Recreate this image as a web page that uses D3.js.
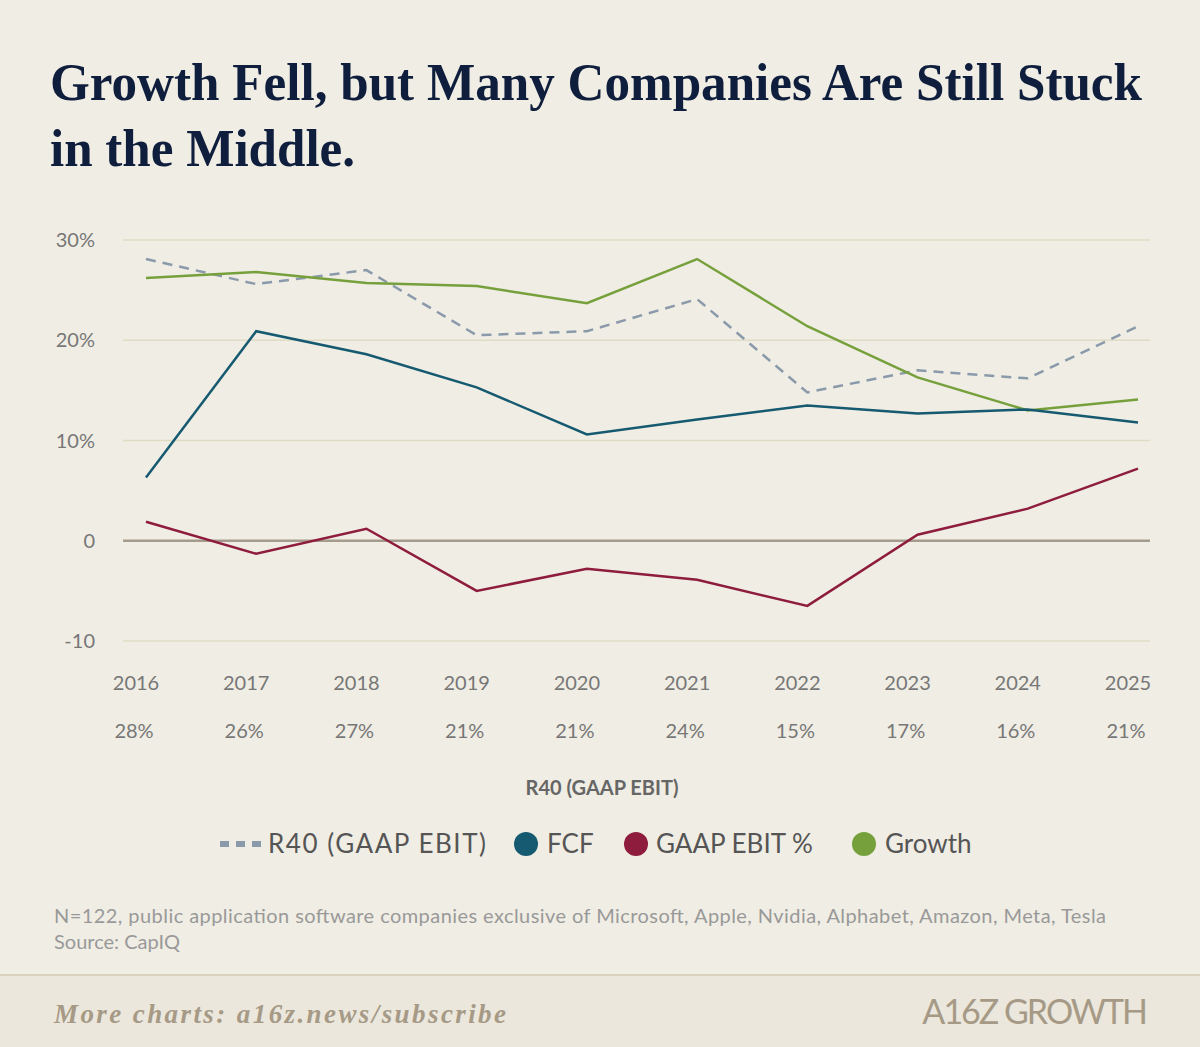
<!DOCTYPE html>
<html><head><meta charset="utf-8">
<script src="https://cdn.jsdelivr.net/npm/d3@7"></script>
<style>body{margin:0;background:#f0ede4;}svg{display:block}</style>
</head><body>
<script>
const years=["2016","2017","2018","2019","2020","2021","2022","2023","2024","2025"];
const r40=[28.1,25.6,27.0,20.5,20.9,24.1,14.8,17.0,16.2,21.4];
const fcf=[6.3,20.9,18.6,15.3,10.6,12.1,13.5,12.7,13.1,11.8];
const ebit=[1.9,-1.3,1.2,-5.0,-2.8,-3.9,-6.5,0.6,3.2,7.2];
const growth=[26.2,26.8,25.7,25.4,23.7,28.1,21.4,16.3,13.0,14.1];
const r40Labels=["28%","26%","27%","21%","21%","24%","15%","17%","16%","21%"];
const yTicks=[30,20,10,0,-10];
const yTickLabels=["30%","20%","10%","0","-10"];

const W=1200,H=1047;
const svg=d3.select("body").append("svg").attr("width",W).attr("height",H);
svg.append("rect").attr("width",W).attr("height",H).attr("fill","#f0ede4");
const serif="'Liberation Serif', 'DejaVu Serif', serif";
const sans="Lato, 'Open Sans', sans-serif";
svg.append("text").attr("x",50).attr("y",100).attr("font-family",serif).attr("font-weight","bold").attr("font-size",52).attr("fill","#0f1e3d").attr("textLength",1092).attr("lengthAdjust","spacingAndGlyphs").text("Growth Fell, but Many Companies Are Still Stuck");
svg.append("text").attr("x",50).attr("y",166).attr("font-family",serif).attr("font-weight","bold").attr("font-size",52).attr("fill","#0f1e3d").attr("textLength",305).attr("lengthAdjust","spacingAndGlyphs").text("in the Middle.");

const x=d3.scalePoint().domain(years).range([146,1138]);
const y=d3.scaleLinear().domain([-10,30]).range([641,240]);
yTicks.forEach((t,i)=>{
  svg.append("line").attr("x1",123).attr("x2",1150).attr("y1",y(t)).attr("y2",y(t))
    .attr("stroke",t===0?"#a59b8c":"#dfdcc4").attr("stroke-width",t===0?2.5:1.5);
  svg.append("text").attr("x",95).attr("y",y(t)+7).attr("text-anchor","end").attr("font-family",sans).attr("font-size",20).attr("fill","#777").text(yTickLabels[i]);
});
years.forEach((yr,i)=>{
  svg.append("text").attr("x",x(yr)-10).attr("y",690).attr("text-anchor","middle").attr("font-family",sans).attr("font-size",20).attr("fill","#777").text(yr);
  svg.append("text").attr("x",x(yr)-12).attr("y",738).attr("text-anchor","middle").attr("font-family",sans).attr("font-size",20).attr("fill","#777").text(r40Labels[i]);
});
svg.append("text").attr("x",602).attr("y",795).attr("text-anchor","middle").attr("font-family",sans).attr("font-weight","bold").attr("font-size",20).attr("fill","#666").text("R40 (GAAP EBIT)");

const line=d3.line().x((d,i)=>x(years[i])).y(d=>y(d));
const series=[
  {v:r40,c:"#8a9aab",dash:"10,7"},
  {v:growth,c:"#76a03c"},
  {v:fcf,c:"#155a70"},
  {v:ebit,c:"#8e1c3c"}];
series.forEach(s=>svg.append("path").datum(s.v).attr("d",line).attr("fill","none")
  .attr("stroke",s.c).attr("stroke-width",2.5).attr("stroke-dasharray",s.dash||null));

const lg=svg.append("g").attr("font-family",sans).attr("font-size",26).attr("fill","#555");
lg.append("line").attr("x1",220).attr("x2",262).attr("y1",844).attr("y2",844).attr("stroke","#8a9aab").attr("stroke-width",6).attr("stroke-dasharray","9,7");
lg.append("text").attr("x",268).attr("y",853).attr("textLength",218).text("R40 (GAAP EBIT)");
[[526,"#155a70",547,"FCF"],[636,"#8e1c3c",656,"GAAP EBIT %"],[864,"#76a03c",885,"Growth"]].forEach(d=>{
  lg.append("circle").attr("cx",d[0]).attr("cy",844).attr("r",12).attr("fill",d[1]);
  lg.append("text").attr("x",d[2]).attr("y",853).text(d[3]);
});
svg.append("text").attr("x",54).attr("y",923).attr("font-family",sans).attr("font-size",20).attr("fill","#999").attr("textLength",1052).text("N=122, public application software companies exclusive of Microsoft, Apple, Nvidia, Alphabet, Amazon, Meta, Tesla");
svg.append("text").attr("x",54).attr("y",949).attr("font-family",sans).attr("font-size",20).attr("fill","#999").text("Source: CapIQ");
svg.append("line").attr("x1",0).attr("x2",W).attr("y1",975).attr("y2",975).attr("stroke","#d8d2bd").attr("stroke-width",2);
svg.append("rect").attr("y",976).attr("width",W).attr("height",71).attr("fill","#ebe7dc");
svg.append("text").attr("x",54).attr("y",1023).attr("font-family",serif).attr("font-style","italic").attr("font-weight","bold").attr("font-size",27).attr("fill","#a69a86").attr("textLength",452).text("More charts: a16z.news/subscribe");
svg.append("text").attr("x",1146).attr("y",1024).attr("text-anchor","end").attr("font-family",sans).attr("font-size",34).attr("fill","#a69a86").attr("letter-spacing",-2).text("A16Z GROWTH");
</script>
</body></html>
